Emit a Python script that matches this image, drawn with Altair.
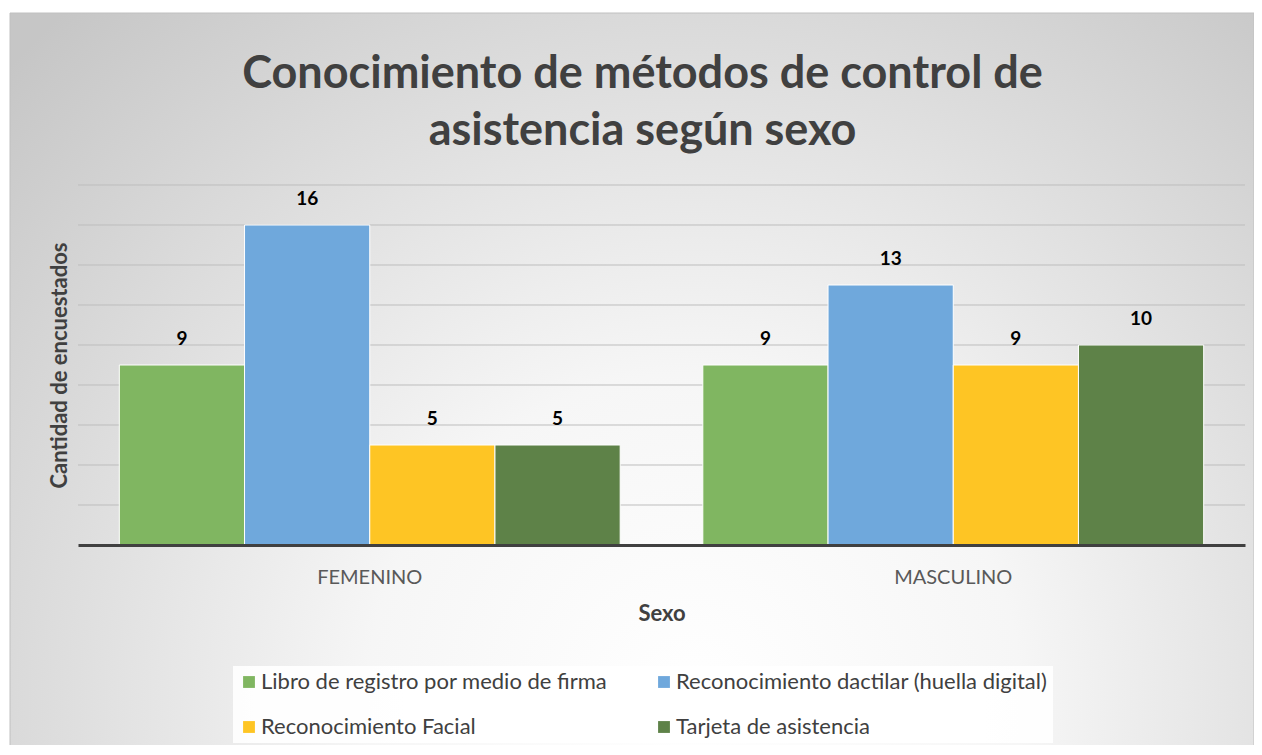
import altair as alt
import pandas as pd

sexos = ["FEMENINO", "MASCULINO"]
metodos = [
    "Libro de registro por medio de firma",
    "Reconocimiento dactilar (huella digital)",
    "Reconocimiento Facial",
    "Tarjeta de asistencia",
]
femenino = [9, 16, 5, 5]
masculino = [9, 13, 9, 10]
colores = ["#80b661", "#6fa8dc", "#fec524", "#5e8248"]
grid_values = [2, 4, 6, 8, 10, 12, 14, 16, 18]

rows = []
for s, vals in zip(sexos, [femenino, masculino]):
    for m, v in zip(metodos, vals):
        rows.append({"Sexo": s, "Metodo": m, "Valor": v})
df = pd.DataFrame(rows)

W, H = 1167, 360
FONT = "Lato"

y_axis = alt.Axis(
    title="Cantidad de encuestados",
    labels=False,
    ticks=False,
    domain=False,
    grid=False,
    titleFont=FONT,
    titleFontSize=22,
    titleFontWeight="bold",
    titleColor="#404040",
    titlePadding=7,
    zindex=1,
)

bg = alt.Chart(pd.DataFrame({"k": [0]})).mark_rect(
    fill={
        "gradient": "radial",
        "x1": 0.55, "y1": 0.75, "r1": 0,
        "x2": 0.55, "y2": 0.75, "r2": 0.75,
        "stops": [
            {"offset": 0, "color": "#ffffff"},
            {"offset": 0.35, "color": "#f6f6f6"},
            {"offset": 1, "color": "#c6c6c6"},
        ],
    },
    stroke="#c0c0c0",
    strokeWidth=1,
).encode(
    x=alt.value(-68), x2=alt.value(1176), y=alt.value(-172), y2=alt.value(580)
)

grid = alt.Chart(pd.DataFrame({"g": grid_values})).mark_rule(
    color="#bdbdbd", strokeWidth=1
).encode(
    y=alt.Y("g:Q", axis=y_axis, scale=alt.Scale(domain=[0, 18])),
    x=alt.value(0),
    x2=alt.value(W),
)

base = alt.Chart(df).encode(
    x=alt.X(
        "Sexo:N",
        sort=sexos,
        scale=alt.Scale(paddingInner=0, paddingOuter=0),
        axis=alt.Axis(
            title="Sexo",
            labelAngle=0,
            ticks=False,
            domain=True,
            domainColor="#404040",
            domainWidth=3,
            labelFont=FONT,
            labelFontSize=20,
            labelColor="#595959",
            labelPadding=22,
            titleFont=FONT,
            titleFontSize=22,
            titleFontWeight="bold",
            titleColor="#404040",
            titlePadding=16,
            zindex=1,
        ),
    ),
    xOffset=alt.XOffset(
        "Metodo:N", sort=metodos, scale=alt.Scale(paddingInner=0, paddingOuter=0.33)
    ),
    y=alt.Y("Valor:Q", scale=alt.Scale(domain=[0, 18]), axis=y_axis),
)

bars = base.mark_bar(stroke="white", strokeWidth=1).encode(
    color=alt.Color(
        "Metodo:N",
        sort=metodos,
        scale=alt.Scale(domain=metodos, range=colores),
        legend=alt.Legend(
            title=None,
            orient="none",
            legendX=155,
            legendY=481,
            columns=2,
            direction="horizontal",
            fillColor="rgba(255,255,255,0.9)",
            padding=5,
            symbolType="square",
            symbolSize=140,
            symbolStrokeWidth=0,
            labelFont=FONT,
            labelFontSize=22,
            labelColor="#404040",
            labelLimit=0,
            rowPadding=23,
            columnPadding=45,
            labelOffset=1,
        ),
    )
)

labels = base.mark_text(
    dy=-26, baseline="middle", fontSize=19, fontWeight="bold", font=FONT, color="black"
).encode(text="Valor:Q")

chart = (
    alt.layer(bg, grid, bars, labels)
    .properties(
        width=W,
        height=H,
        autosize=alt.AutoSizeParams(type="none"),
        padding={"left": 70, "top": 177, "right": 9, "bottom": 200},
        title=alt.TitleParams(
            text=["Conocimiento de métodos de control de", "asistencia según sexo"],
            font=FONT,
            fontSize=45,
            fontWeight="bold",
            color="#404040",
            anchor="middle",
            frame="group",
            lineHeight=57,
            offset=-141,
            dx=-19,
            zindex=1,
        ),
        background="white",
    )
    .configure_view(stroke=None)
)

chart.save("out.html", embed_options={"renderer": "svg", "actions": False})
